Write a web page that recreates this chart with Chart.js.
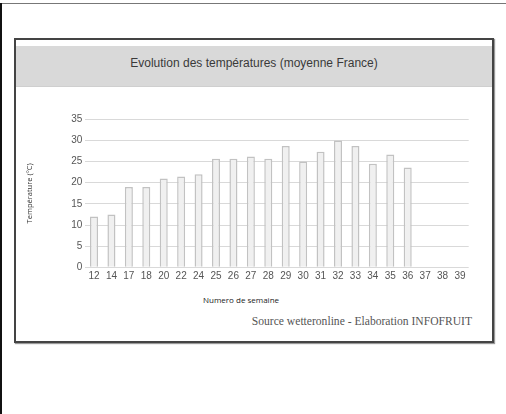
<!DOCTYPE html>
<html>
<head>
<meta charset="utf-8">
<script src="https://cdn.jsdelivr.net/npm/chart.js@4"></script>
<style>
    html, body { margin: 0; padding: 0; background: #fff; }
    body { width: 506px; height: 414px; position: relative; overflow: hidden; font-family: "Liberation Sans", Arial, sans-serif; }
    .page-top { position: absolute; left: 0; top: 3px; width: 506px; height: 1px; background: #777; }
    .page-left { position: absolute; left: 0; top: 3px; width: 2px; height: 411px; background: #111; }
    .frame { position: absolute; left: 14px; top: 38px; width: 476px; height: 301px; border: 2px solid #444; box-shadow: 1px 1px 1px #999; background: #fff; }
    .band { position: absolute; left: 16px; top: 46px; width: 476px; height: 40px; background: #d9d9d9; border-bottom: 1px solid #cfcfcf; }
    .title { position: absolute; left: 16px; top: 56px; width: 476px; text-align: center; font-size: 12px; color: #3a3a3a; }
    .xtitle { position: absolute; left: 203px; top: 294px; font-size: 8px; color: #222; font-family: "Open Sans", sans-serif; }
    .source { position: absolute; right: 34px; top: 315px; font-family: "Liberation Serif", serif; font-size: 11.6px; color: #555; }
    #chart { position: absolute; left: 0; top: 0; z-index: 2; }
</style>
</head>
<body>
<div class="page-top"></div>
<div class="page-left"></div>
<div class="frame"></div>
<div class="band"></div>
<div class="title">Evolution des températures (moyenne France)</div>
<div class="xtitle">Numero de semaine</div>
<div class="source">Source wetteronline - Elaboration INFOFRUIT</div>
<canvas id="chart" width="506" height="414"></canvas>
<script>
// semaines et températures moyennes
const weeks = ['12', '14', '17', '18', '20', '22', '24', '25', '26', '27', '28', '29', '30', '31', '32', '33', '34', '35', '36', '37', '38', '39'];
const temperatures = [12, 12.5, 19, 19, 21, 21.5, 22, 25.7, 25.7, 26.2, 25.7, 28.7, 25, 27.3, 30, 28.7, 24.5, 26.7, 23.6, null, null, null];
const yMax = 35;
const yStep = 5;

const chartLeft = 85.3;
const chartTop = 119.3;
const chartBottom = 267.3;
const chartRight = 468.7;

const ctx = document.getElementById('chart').getContext('2d');
new Chart(ctx, {
    type: 'bar',
    data: {
        labels: weeks,
        datasets: [{
            label: 'Température',
            data: temperatures,
            backgroundColor: '#f0f0f0',
            borderColor: '#c2c2c2',
            borderWidth: 1.5,
            borderSkipped: 'bottom',
            barPercentage: 0.46,
            categoryPercentage: 1
        }]
    },
    options: {
        responsive: false,
        animation: false,
        layout: {
            padding: { left: 0, top: chartTop, right: 506 - chartRight, bottom: 0 }
        },
        plugins: {
            legend: { display: false },
            tooltip: { enabled: false }
        },
        scales: {
            x: {
                offset: true,
                grid: { display: false, drawTicks: false },
                border: { display: false },
                ticks: {
                    padding: 3,
                    color: '#555',
                    font: { family: 'Liberation Sans', size: 10 },
                    maxRotation: 0,
                    autoSkip: false
                },
                afterFit: (s) => { s.height = 414 - chartBottom; }
            },
            y: {
                min: 0,
                max: yMax,
                grid: { color: '#d9d9d9', drawTicks: false, lineWidth: 1 },
                border: { display: false },
                ticks: {
                    stepSize: yStep,
                    padding: 3,
                    color: '#555',
                    font: { family: 'Liberation Sans', size: 10 }
                },
                title: {
                    display: true,
                    text: 'Température (°C)',
                    color: '#333',
                    font: { family: 'Open Sans', size: 7.5 },
                    padding: { top: 25, bottom: 0 }
                },
                afterFit: (s) => { s.width = chartLeft; }
            }
        }
    }
});
</script>
</body>
</html>
